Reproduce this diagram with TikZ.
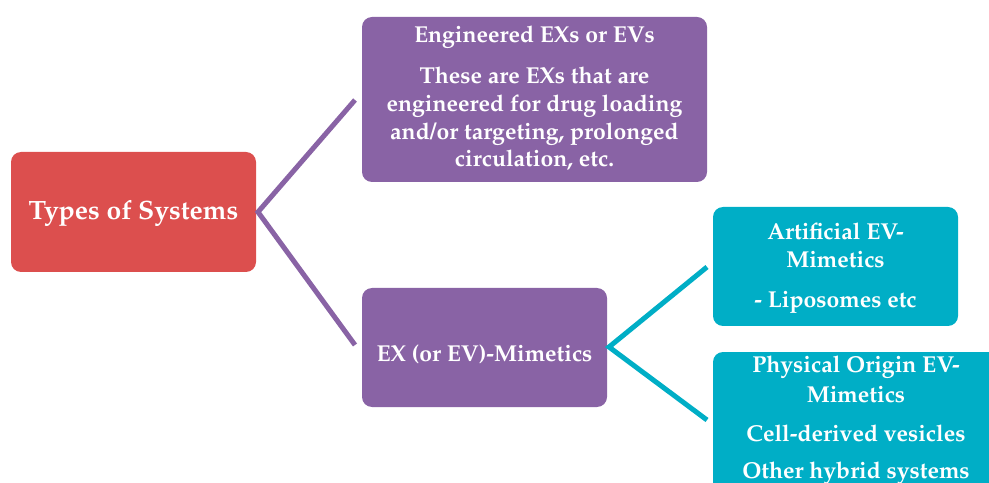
\documentclass[tikz,border=0pt]{standalone}
\usepackage[T1]{fontenc}
\usepackage{mathpazo}
\definecolor{cred}{HTML}{DC4F4E}
\definecolor{cpurple}{HTML}{8963A5}
\definecolor{cteal}{HTML}{00AEC6}
\begin{document}
\begin{tikzpicture}[x=1bp,y=-1bp,
  box/.style={draw=none,rounded corners=10bp},
  txt/.style={anchor=base,text=white,font=\bfseries\fontsize{23bp}{27bp}\selectfont,inner sep=0pt},
  bigtxt/.style={txt,font=\bfseries\fontsize{26.5bp}{31bp}\selectfont},
  link/.style={line width=5bp}]
\useasboundingbox (0,0) rectangle (989,483);
\begin{scope}
\clip (0,0) rectangle (989,483);
% boxes
\fill[cred,rounded corners=10bp] (11,152) rectangle (256,272);
\coordinate (redR) at (258,212);
\fill[cpurple,rounded corners=10bp] (362,17) rectangle (707,182);
\fill[cpurple,rounded corners=10bp] (362,288) rectangle (607,407);
\fill[cteal,rounded corners=10bp] (713,207) rectangle (958,326);
\fill[cteal,rounded corners=10bp] (713,352) rectangle (999,520);
% connectors
\coordinate (p1) at (355,100);
\coordinate (p2) at (355,345);
\coordinate (mimR) at (609,347);
\coordinate (t1) at (707,267);
\coordinate (t2) at (707,420);
\draw[link,cpurple] (p1) -- (redR) -- (p2);
\draw[link,cteal] (t1) -- (mimR) -- (t2);
% texts
\node[bigtxt] (types) at (133.5,220) {Types of Systems};
\node[txt] (eng) at (534.5,43) {Engineered EXs or EVs};
\node[txt] (engA) at (534.5,84) {These are EXs that are};
\node[txt] (engB) at (534.5,112) {engineered for drug loading};
\node[txt] (engC) at (534.5,139.5) {and/or targeting, prolonged};
\node[txt] (engD) at (534.5,167) {circulation, etc.};
\node[txt] (mim) at (484.5,362) {EX (or EV)-Mimetics};
\node[txt] (artA) at (835.5,240) {Artificial EV-};
\node[txt] (artB) at (835.5,268) {Mimetics};
\node[txt] (artC) at (835.5,308) {- Liposomes etc};
\node[txt] (phyA) at (856,373) {Physical Origin EV-};
\node[txt] (phyB) at (856,402) {Mimetics};
\node[txt] (phyC) at (856,441) {Cell-derived vesicles};
\node[txt] (phyD) at (856,478) {Other hybrid systems};
\end{scope}
\end{tikzpicture}
\end{document}
